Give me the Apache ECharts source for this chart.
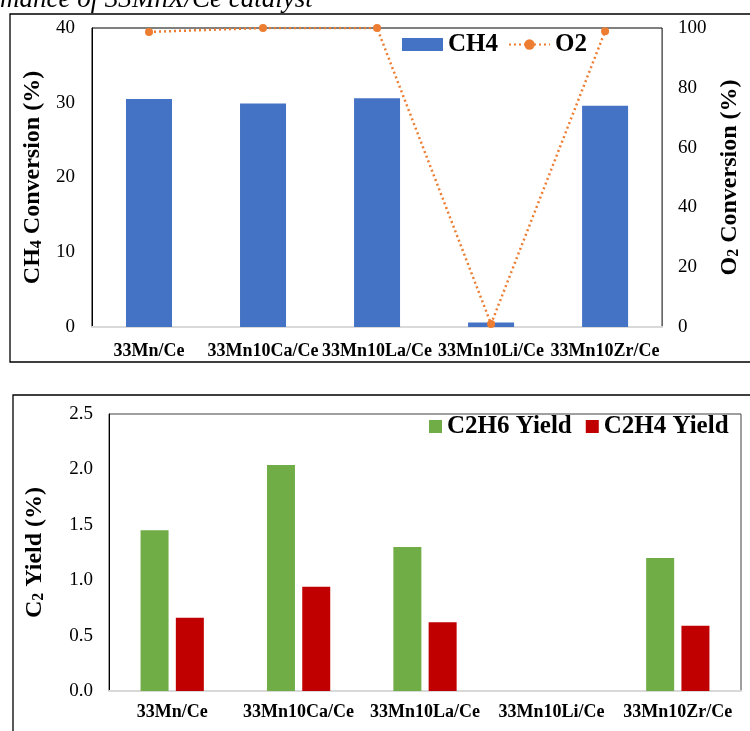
<!DOCTYPE html>
<html><head><meta charset="utf-8">
<script src="https://cdn.jsdelivr.net/npm/echarts@6/dist/echarts.min.js"></script>
<style>html,body{margin:0;padding:0;background:#fff}#c{width:750px;height:731px}</style>
</head><body><div id="c"></div>
<script>
const categories = ['33Mn/Ce', '33Mn10Ca/Ce', '33Mn10La/Ce', '33Mn10Li/Ce', '33Mn10Zr/Ce'];
const ch4Conversion = [30.5, 29.9, 30.6, 0.6, 29.6];
const o2Conversion = [98.7, 100, 100, 1.0, 98.9];
const c2h6Yield = [1.45, 2.04, 1.30, 0, 1.20];
const c2h4Yield = [0.66, 0.94, 0.62, 0, 0.59];
const ch4Ticks = [0, 10, 20, 30, 40];
const o2Ticks = [0, 20, 40, 60, 80, 100];
const yieldTicks = [0, 0.5, 1.0, 1.5, 2.0, 2.5];

const FF = '"Liberation Serif", "Times New Roman", serif';
const rng = t => ({ min: t[0], max: t[t.length - 1], interval: t[1] - t[0] });
const nameRich = {
  b: { fontFamily: FF, fontWeight: 'bold', fontSize: 24, color: '#000', lineHeight: 25 },
  s: { fontFamily: FF, fontWeight: 'bold', fontSize: 16, color: '#000', lineHeight: 10, verticalAlign: 'bottom' }
};
const tickLabel = { fontFamily: FF, fontSize: 19, color: '#000' };
const catLabel = { fontFamily: FF, fontSize: 18, fontWeight: 'bold', color: '#000' };

const chart = echarts.init(document.getElementById('c'), null, { renderer: 'canvas' });
chart.setOption({
  animation: false,
  backgroundColor: '#fff',
  graphic: [
    { type: 'rect', shape: { x: 10, y: 14, width: 760, height: 348 }, style: { fill: 'none', stroke: '#000', lineWidth: 1.3 }, z: 0 },
    { type: 'rect', shape: { x: 13, y: 395, width: 760, height: 360 }, style: { fill: 'none', stroke: '#000', lineWidth: 1.3 }, z: 0 },
    { type: 'text', x: 0, y: 0, style: { text: 'mance of 33MnX/Ce catalyst', font: 'italic 27px ' + FF, fill: '#000', verticalAlign: 'middle' }, z: 10 }
  ],
  legend: [
    {
      left: 402, top: 32, padding: 0, itemGap: 10, itemWidth: 41, itemHeight: 13,
      textStyle: { fontFamily: FF, fontSize: 25, fontWeight: 'bold', color: '#000' },
      data: [{ name: 'CH4', icon: 'rect' }, { name: 'O2' }]
    },
    {
      left: 429, top: 414, padding: 0, itemGap: 14, itemWidth: 13, itemHeight: 13,
      textStyle: { fontFamily: FF, fontSize: 25, fontWeight: 'bold', color: '#000' },
      data: [{ name: 'C2H6 Yield', icon: 'rect' }, { name: 'C2H4 Yield', icon: 'rect' }]
    }
  ],
  grid: [
    { left: 92, right: 81, top: 28, bottom: 404, show: true, borderColor: '#000', borderWidth: 1, backgroundColor: 'transparent' },
    { left: 109, right: 9, top: 414, bottom: 40, show: true, borderColor: '#404040', borderWidth: 1, backgroundColor: 'transparent' }
  ],
  xAxis: [
    { type: 'category', gridIndex: 0, data: categories, axisTick: { show: false },
      axisLine: { lineStyle: { color: '#d9d9d9', width: 2 } }, axisLabel: Object.assign({ margin: 15, interval: 0 }, catLabel) },
    { type: 'category', gridIndex: 1, data: categories, axisTick: { show: false },
      axisLine: { lineStyle: { color: '#d9d9d9', width: 2 } }, axisLabel: Object.assign({ margin: 12, interval: 0 }, catLabel) }
  ],
  yAxis: [
    Object.assign({ type: 'value', gridIndex: 0, position: 'left',
      name: '{b|CH}{s|4}{b| Conversion (%)}', nameLocation: 'middle', nameRotate: 90, nameGap: 47,
      nameTextStyle: { rich: nameRich },
      axisLine: { show: true, lineStyle: { color: '#000', width: 1 } }, axisTick: { show: false },
      splitLine: { show: false }, axisLabel: Object.assign({ margin: 17 }, tickLabel) }, rng(ch4Ticks)),
    Object.assign({ type: 'value', gridIndex: 0, position: 'right',
      name: '{b|O}{s|2}{b| Conversion (%)}', nameLocation: 'middle', nameRotate: 90, nameGap: 46,
      nameTextStyle: { rich: nameRich },
      axisLine: { show: false }, axisTick: { show: false },
      splitLine: { show: false }, axisLabel: Object.assign({ margin: 16 }, tickLabel) }, rng(o2Ticks)),
    Object.assign({ type: 'value', gridIndex: 1, position: 'left',
      name: '{b|C}{s|2}{b| Yield (%)}', nameLocation: 'middle', nameRotate: 90, nameGap: 62,
      nameTextStyle: { rich: nameRich },
      axisLine: { show: true, lineStyle: { color: '#000', width: 1 } }, axisTick: { show: false },
      splitLine: { show: false }, axisLabel: Object.assign({ margin: 16, formatter: v => v.toFixed(1) }, tickLabel) }, rng(yieldTicks))
  ],
  series: [
    { name: 'CH4', type: 'bar', xAxisIndex: 0, yAxisIndex: 0, data: ch4Conversion, barWidth: 46,
      itemStyle: { color: '#4472C4' } },
    { name: 'O2', type: 'line', xAxisIndex: 0, yAxisIndex: 1, data: o2Conversion,
      lineStyle: { color: '#ED7D31', width: 2.5, type: [2, 3] }, itemStyle: { color: '#ED7D31' },
      symbol: 'circle', symbolSize: 8, z: 5 },
    { name: 'C2H6 Yield', type: 'bar', xAxisIndex: 1, yAxisIndex: 2, data: c2h6Yield, barWidth: 28, barGap: '26%',
      itemStyle: { color: '#70AD47' } },
    { name: 'C2H4 Yield', type: 'bar', xAxisIndex: 1, yAxisIndex: 2, data: c2h4Yield, barWidth: 28, barGap: '26%',
      itemStyle: { color: '#C00000' } }
  ]
});
</script>
</body></html>
